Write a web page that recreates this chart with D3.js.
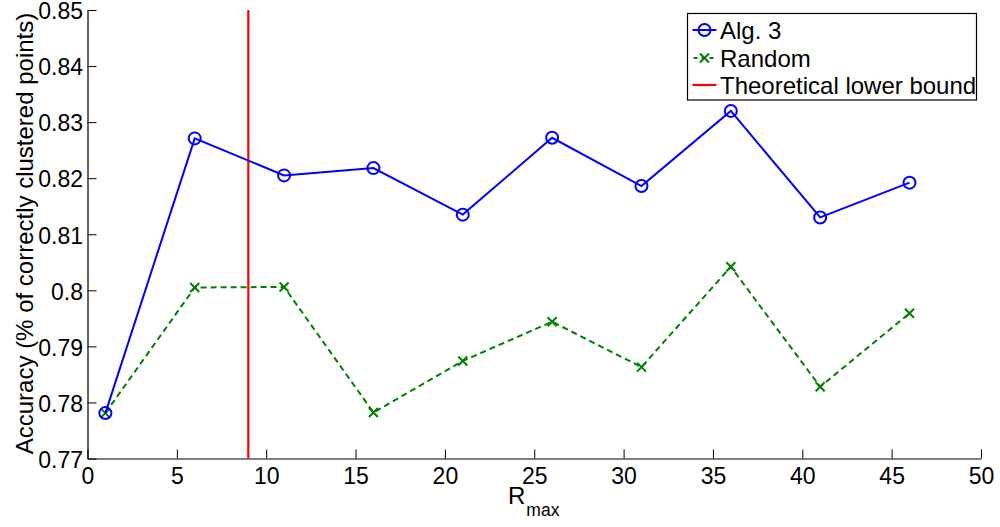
<!DOCTYPE html>
<html>
<head>
<meta charset="utf-8">
<script src="https://cdn.jsdelivr.net/npm/d3@7"></script>
<style>
  html, body { margin: 0; padding: 0; background: #fff; }
  svg { display: block; font-family: "Liberation Sans", Arial, Helvetica, sans-serif; }
</style>
</head>
<body>
<svg id="chart" width="1000" height="527"></svg>
<script>
// R_max settings evaluated
const rmax = [1, 6, 11, 16, 21, 26, 31, 36, 41, 46];
// Accuracy of Alg. 3
const alg3 = [0.7781, 0.8271, 0.8205, 0.8218, 0.8135, 0.8272, 0.8186, 0.8320, 0.8130, 0.8192];
// Accuracy of random selection
const random = [0.7781, 0.8005, 0.8006, 0.7782, 0.7874, 0.7944, 0.7863, 0.8042, 0.7828, 0.7959];
// Theoretical lower bound on R_max
const lowerBound = 9;

const xTicks = [0, 5, 10, 15, 20, 25, 30, 35, 40, 45, 50];
const yTicks = [0.77, 0.78, 0.79, 0.80, 0.81, 0.82, 0.83, 0.84, 0.85];
const yTickLabels = ["0.77", "0.78", "0.79", "0.8", "0.81", "0.82", "0.83", "0.84", "0.85"];

const legendItems = ["Alg. 3", "Random", "Theoretical lower bound"];

const svg = d3.select("#chart");
const plotLeft = 87.5, plotRight = 981, plotTop = 10, plotBottom = 458.5;

const x = d3.scaleLinear().domain([0, 50]).range([plotLeft, plotRight]);
const y = d3.scaleLinear().domain([0.77, 0.85]).range([plotBottom, plotTop]);

const tickFont = 23;
const labelFont = 24;

// Axes (ticks pointing inward)
const xAxis = d3.axisBottom(x).tickValues(xTicks).tickSizeInner(-9).tickSizeOuter(0).tickFormat(d3.format("d"));
const yAxis = d3.axisLeft(y).tickValues(yTicks).tickSizeInner(-9).tickSizeOuter(0)
  .tickFormat((d, i) => yTickLabels[i]);

const gx = svg.append("g").attr("transform", `translate(0,${plotBottom})`).call(xAxis);
const gy = svg.append("g").attr("transform", `translate(${plotLeft},0)`).call(yAxis);

[gx, gy].forEach(g => {
  g.select(".domain").attr("stroke", "#000").attr("stroke-width", 1.2);
  g.selectAll(".tick line").attr("stroke", "#000").attr("stroke-width", 1);
  g.selectAll(".tick text").attr("fill", "#000").attr("font-size", tickFont)
    .attr("font-family", "'Liberation Sans', Arial, sans-serif");
});
gx.selectAll(".tick text").attr("y", 25.5).attr("dy", 0);
gy.selectAll(".tick text").attr("x", -4.5).attr("dy", "0.38em");

// Axis titles
svg.append("text")
  .attr("transform", `translate(32.5,233.5) rotate(-90)`)
  .attr("text-anchor", "middle")
  .attr("font-size", labelFont)
  .text("Accuracy (% of correctly clustered points)");

const xl = svg.append("text").attr("x", 508).attr("y", 504).attr("font-size", labelFont);
xl.append("tspan").text("R");
xl.append("tspan").attr("font-size", 17.5).attr("dy", 12).attr("dx", 1).text("max");

// Theoretical lower bound
svg.append("line")
  .attr("x1", x(lowerBound)).attr("x2", x(lowerBound))
  .attr("y1", y(0.85)).attr("y2", y(0.77))
  .attr("stroke", "#ff0000").attr("stroke-width", 2.2);

const line = d3.line().x(d => x(d[0])).y(d => y(d[1]));

// Random series
const randData = rmax.map((r, i) => [r, random[i]]);
svg.append("path").datum(randData).attr("d", line)
  .attr("fill", "none").attr("stroke", "#008000").attr("stroke-width", 2)
  .attr("stroke-dasharray", "6,4");
const xm = 4.5;
svg.append("g").selectAll("path").data(randData).join("path")
  .attr("d", d => {
    const cx = x(d[0]), cy = y(d[1]);
    return `M${cx - xm},${cy - xm}L${cx + xm},${cy + xm}M${cx - xm},${cy + xm}L${cx + xm},${cy - xm}`;
  })
  .attr("stroke", "#008000").attr("stroke-width", 2).attr("fill", "none");

// Alg. 3 series
const algData = rmax.map((r, i) => [r, alg3[i]]);
svg.append("path").datum(algData).attr("d", line)
  .attr("fill", "none").attr("stroke", "#0000ff").attr("stroke-width", 2);
svg.append("g").selectAll("circle").data(algData).join("circle")
  .attr("cx", d => x(d[0])).attr("cy", d => y(d[1])).attr("r", 6)
  .attr("fill", "none").attr("stroke", "#0000ff").attr("stroke-width", 2);

// Legend
const lg = svg.append("g");
lg.append("rect").attr("x", 687.5).attr("y", 13.5).attr("width", 289).attr("height", 86.5)
  .attr("fill", "#fff").attr("stroke", "#000").attr("stroke-width", 1.2);
const rowY = [30, 58, 85];
const sx1 = 692.5, sx2 = 716.5, smid = (sx1 + sx2) / 2;
// Alg. 3 sample
lg.append("line").attr("x1", sx1).attr("x2", sx2).attr("y1", rowY[0]).attr("y2", rowY[0])
  .attr("stroke", "#0000ff").attr("stroke-width", 2);
lg.append("circle").attr("cx", smid).attr("cy", rowY[0]).attr("r", 6)
  .attr("fill", "none").attr("stroke", "#0000ff").attr("stroke-width", 2);
// Random sample
lg.append("line").attr("x1", sx1).attr("x2", sx2).attr("y1", rowY[1]).attr("y2", rowY[1])
  .attr("stroke", "#008000").attr("stroke-width", 2).attr("stroke-dasharray", "4,4").attr("stroke-dashoffset", -1);
lg.append("path")
  .attr("d", `M${smid - xm},${rowY[1] - xm}L${smid + xm},${rowY[1] + xm}M${smid - xm},${rowY[1] + xm}L${smid + xm},${rowY[1] - xm}`)
  .attr("stroke", "#008000").attr("stroke-width", 2);
// Lower bound sample
lg.append("line").attr("x1", sx1).attr("x2", sx2).attr("y1", rowY[2]).attr("y2", rowY[2])
  .attr("stroke", "#ff0000").attr("stroke-width", 2.2);

lg.selectAll("text.lbl").data(legendItems).join("text").attr("class", "lbl")
  .attr("x", 720).attr("y", (d, i) => rowY[i]).attr("dy", "0.36em")
  .attr("font-size", labelFont).text(d => d);
</script>
</body>
</html>
